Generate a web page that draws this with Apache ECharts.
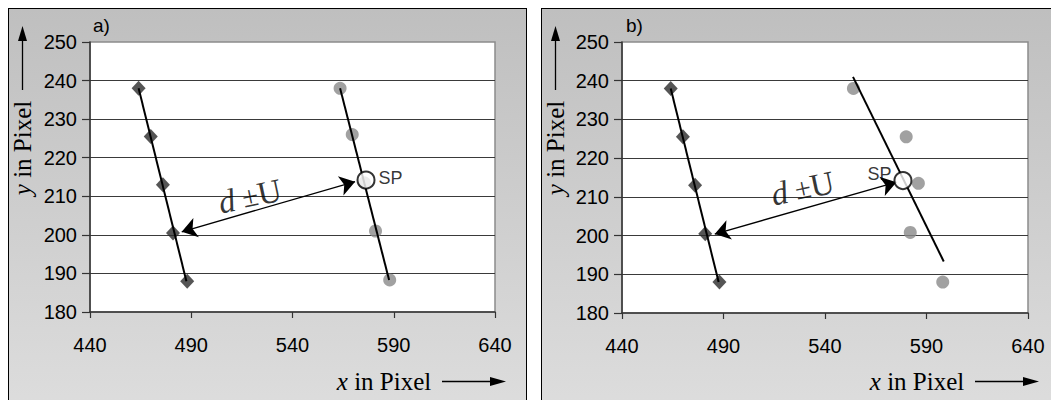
<!DOCTYPE html>
<html>
<head>
<meta charset="utf-8">
<script src="https://cdn.jsdelivr.net/npm/echarts@6/dist/echarts.min.js"></script>
<style>
  html, body { margin: 0; padding: 0; background: #fff; width: 1051px; height: 400px; overflow: hidden; }
  .panel { position: absolute; top: 8px; height: 430px; box-sizing: border-box;
           border: 1.5px solid #000; background: linear-gradient(#bfbfbf, #dfdfdf); }
  #pa { left: 8px; width: 519px; }
  #pb { left: 541px; width: 540px; }
  #chart { position: absolute; left: 0; top: 0; width: 1051px; height: 400px; }
</style>
</head>
<body>
<div class="panel" id="pa"></div>
<div class="panel" id="pb"></div>
<div id="chart"></div>
<script>
// Axis ranges (pixel coordinates of the image being analysed)
const xRange = [440, 640];
const xStep = 50;
const yRange = [180, 250];
const yStep = 10;
const panelNames = ['a)', 'b)'];

// Left line: diamond markers and their fitted line
const diamondX = [464, 470, 476, 481, 488];
const diamondY = [238, 225.5, 213, 200.5, 188];
const diamondFit = [[464, 238], [487.6, 188]];

// Panel a): right line points, fit and its centre point SP
const spotsAX = [563.5, 569.5, 575.5, 581, 588];
const spotsAY = [238, 226, 213.5, 201, 188.3];
const spotsAFit = [[563.5, 238], [587.7, 188.3]];
const spA = [576.3, 214.2];
const distA = [[485.3, 200.8], [570.9, 213.8]];
const distLabelA = [519, 210];

// Panel b): scattered points, fit and its centre point SP
const spotsBX = [554, 580, 586, 582, 598];
const spotsBY = [238, 225.5, 213.5, 200.8, 188];
const spotsBFit = [[553.8, 241], [598.5, 193.3]];
const spB = [578.4, 214.2];
const distB = [[485.7, 200.4], [575.2, 213.8]];
const distLabelB = [529, 212.2];

const zip = (xs, ys) => xs.map((x, i) => [x, ys[i]]);

const SANS = '"Liberation Sans", Arial, sans-serif';
const SERIF = '"Liberation Serif", "Times New Roman", serif';

const grids = [
  { left: 90, top: 42, width: 405, height: 270 },
  { left: 622, top: 42, width: 406, height: 271 }
];

function xAxisFor(i) {
  return {
    type: 'value', gridIndex: i, min: xRange[0], max: xRange[1], interval: xStep,
    axisLine: { show: true, lineStyle: { color: '#333', width: 1.5 } },
    axisTick: { show: true, length: 6, lineStyle: { color: '#333', width: 1.2 } },
    axisLabel: { color: '#000', fontFamily: SANS, fontSize: 20, margin: 23 },
    splitLine: { show: false }
  };
}
function yAxisFor(i) {
  return {
    type: 'value', gridIndex: i, min: yRange[0], max: yRange[1], interval: yStep,
    axisLine: { show: true, lineStyle: { color: '#333', width: 1.5 } },
    axisTick: { show: true, length: 8, lineStyle: { color: '#333', width: 1.2 } },
    axisLabel: { color: '#000', fontFamily: SANS, fontSize: 20, margin: 13 },
    splitLine: { show: true, showMinLine: false, showMaxLine: false,
                 lineStyle: { color: '#3a3a3a', width: 1.2 } }
  };
}

function panelSeries(i, spots, fit, sp, dist, labelPos, spLabel) {
  return [
    { type: 'scatter', xAxisIndex: i, yAxisIndex: i, z: 2,
      symbol: 'diamond', symbolSize: [14, 15],
      itemStyle: { color: '#2b2b2b' },
      data: zip(diamondX, diamondY) },
    { type: 'line', xAxisIndex: i, yAxisIndex: i, z: 3, showSymbol: false,
      lineStyle: { color: '#000', width: 2 }, data: diamondFit },
    { type: 'scatter', xAxisIndex: i, yAxisIndex: i, z: 2,
      symbol: 'circle', symbolSize: 13,
      itemStyle: { color: '#8a8a8a' },
      data: spots },
    { type: 'line', xAxisIndex: i, yAxisIndex: i, z: 3, showSymbol: false,
      lineStyle: { color: '#000', width: 2 }, data: fit },
    { type: 'scatter', xAxisIndex: i, yAxisIndex: i, z: 6,
      symbol: 'circle', symbolSize: 17,
      itemStyle: { color: '#fff', borderColor: '#000', borderWidth: 2 },
      label: Object.assign({ show: true, formatter: 'SP', color: '#000',
                             fontFamily: SANS, fontSize: 18 }, spLabel),
      data: [sp],
      markLine: {
        silent: true, symbol: ['arrow', 'arrow'], symbolSize: 15,
        lineStyle: { color: '#000', width: 1.3, type: 'solid' },
        label: { show: false },
        data: [[{ coord: dist[0] }, { coord: dist[1] }]]
      } },
    { type: 'scatter', xAxisIndex: i, yAxisIndex: i, z: 4,
      symbolSize: 0, silent: true,
      label: {
        show: true, position: 'inside', rotate: 12,
        formatter: '{d|d}{sp| }{pm|\u00b1}{u|U}',
        rich: {
          d: { fontFamily: SERIF, fontStyle: 'italic', fontSize: 33, color: '#000' },
          sp: { fontFamily: SERIF, fontSize: 30 },
          pm: { fontFamily: SERIF, fontSize: 29, color: '#000' },
          u: { fontFamily: SERIF, fontSize: 33, color: '#000' }
        }
      },
      data: [labelPos] }
  ];
}

// Axis titles with their direction arrows, one set per panel
function panelGraphics(dx, name) {
  const titleRich = { i: { fontFamily: SERIF, fontStyle: 'italic', fontSize: 25 } };
  return [
    { type: 'text', x: 93 + dx, y: 16,
      style: { text: name, font: '19px ' + SANS, fill: '#000' } },
    { type: 'text', x: 22.5 + dx, y: 148, rotation: Math.PI / 2,
      style: { text: '{i|y} in Pixel', align: 'center', verticalAlign: 'middle', fill: '#000',
               font: '25px ' + SERIF, rich: titleRich } },
    { type: 'line', shape: { x1: 22.5 + dx, y1: 90, x2: 22.5 + dx, y2: 36 },
      style: { stroke: '#000', lineWidth: 1.3 } },
    { type: 'polygon', shape: { points: [[22.5 + dx, 26], [18 + dx, 41], [27 + dx, 41]] },
      style: { fill: '#000' } },
    { type: 'text', x: 384 + dx, y: 381,
      style: { text: '{i|x} in Pixel', align: 'center', verticalAlign: 'middle', fill: '#000',
               font: '25px ' + SERIF, rich: titleRich } },
    { type: 'line', shape: { x1: 442 + dx, y1: 381.5, x2: 494 + dx, y2: 381.5 },
      style: { stroke: '#000', lineWidth: 1.3 } },
    { type: 'polygon', shape: { points: [[506 + dx, 381.5], [490 + dx, 377], [490 + dx, 386]] },
      style: { fill: '#000' } }
  ];
}

const chart = echarts.init(document.getElementById('chart'), null, { renderer: 'svg' });
chart.setOption({
  animation: false,
  backgroundColor: 'transparent',
  grid: grids.map(g => Object.assign({ show: true, backgroundColor: '#fff',
                                       borderColor: '#8c8c8c', borderWidth: 1.5 }, g)),
  xAxis: [xAxisFor(0), xAxisFor(1)],
  yAxis: [yAxisFor(0), yAxisFor(1)],
  series: [].concat(
    panelSeries(0, zip(spotsAX, spotsAY), spotsAFit, spA, distA, distLabelA,
                { position: 'right', distance: 3, offset: [0, -2] }),
    panelSeries(1, zip(spotsBX, spotsBY), spotsBFit, spB, distB, distLabelB,
                { position: 'left', distance: 2, offset: [0, -7] })
  ),
  graphic: [].concat(panelGraphics(0, panelNames[0]), panelGraphics(533, panelNames[1]))
});
</script>
</body>
</html>
